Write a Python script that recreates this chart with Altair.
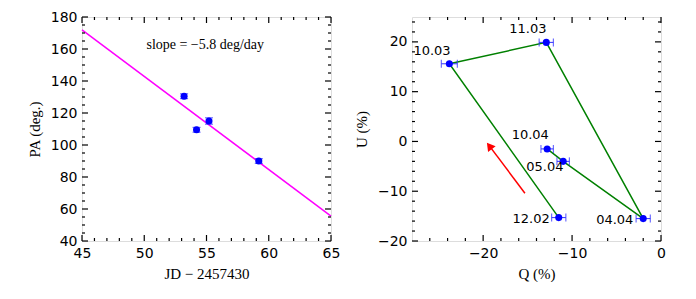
import altair as alt
import pandas as pd

# ---------------- data: left panel (PA vs JD) ----------------
jd = [53.2, 54.2, 55.2, 59.2]
pa = [130.5, 109.5, 115.0, 90.0]
pa_err = [1.5, 1.5, 2.0, 1.5]
fit_jd = [45.0, 65.0]
fit_pa = [172.0, 55.5]
slope_text = ["slope = \u22125.8 deg/day"]
slope_pos = [54.9, 162.5]

left_x_major = [45, 50, 55, 60, 65]
left_x_minor = [46, 47, 48, 49, 51, 52, 53, 54, 56, 57, 58, 59, 61, 62, 63, 64]
left_y_major = [40, 60, 80, 100, 120, 140, 160, 180]
left_y_minor = [45, 50, 55, 65, 70, 75, 85, 90, 95, 105, 110, 115, 125, 130, 135,
                145, 150, 155, 165, 170, 175]

# ---------------- data: right panel (U vs Q) ----------------
dates = ["12.02", "10.03", "11.03", "04.04", "05.04", "10.04"]
q = [-11.5, -23.8, -12.9, -2.0, -11.0, -12.8]
u = [-15.3, 15.6, 19.9, -15.5, -4.0, -1.5]
q_err = [0.8, 0.9, 0.8, 0.8, 0.7, 0.7]
u_err = [0.5, 0.6, 0.5, 0.6, 0.5, 0.5]
label_q = [-14.6, -25.75, -14.97, -5.2, -13.06, -14.7]
label_u = [-15.6, 18.2, 22.6, -15.8, -5.1, 1.3]
arrow_q = [-15.3, -19.3]
arrow_u = [-10.4, -0.9]

right_x_major = [-20, -10, 0]
right_x_minor = [-26, -24, -22, -18, -16, -14, -12, -8, -6, -4, -2]
right_y_major = [-20, -10, 0, 10, 20]
right_y_minor = [-18, -16, -14, -12, -8, -6, -4, -2, 2, 4, 6, 8, 12, 14, 16, 18, 22, 24]

W, H = 249, 224
MAJ, MIN = 6, 3

LABEL_FONT = "DejaVu Sans"
TITLE_FONT = "Liberation Serif"


def make_axis(values, title, orient):
    return alt.Axis(values=values, title=title, ticks=False, domain=False, grid=False,
                    labelFont=LABEL_FONT, labelFontSize=14, labelColor="black",
                    titleFont=TITLE_FONT, titleFontSize=15, titleFontWeight="normal",
                    titleColor="black", labelPadding=5,
                    titlePadding=8 if orient == "left" else 6, labelFlush=False,
                    labelOverlap=False)


def tick_layers(xs_major, xs_minor, ys_major, ys_minor, X, Y):
    layers = []
    for vals, ln in ((xs_major, MAJ), (xs_minor, MIN)):
        d = pd.DataFrame({"x": vals})
        base = alt.Chart(d).mark_tick(color="black", orient="vertical", size=ln,
                                      thickness=1.2, opacity=1)
        layers.append(base.encode(x=X("x:Q"), y=alt.value(H - ln / 2)))
        layers.append(base.encode(x=X("x:Q"), y=alt.value(ln / 2)))
    for vals, ln in ((ys_major, MAJ), (ys_minor, MIN)):
        d = pd.DataFrame({"y": vals})
        base = alt.Chart(d).mark_tick(color="black", orient="horizontal", size=ln,
                                      thickness=1.2, opacity=1)
        layers.append(base.encode(y=Y("y:Q"), x=alt.value(ln / 2)))
        layers.append(base.encode(y=Y("y:Q"), x=alt.value(W - ln / 2)))
    return layers


# ---------------- left panel ----------------
lx_scale = alt.Scale(domain=[45, 65], nice=False, zero=False)
ly_scale = alt.Scale(domain=[40, 180], nice=False, zero=False)
lx_axis = make_axis(left_x_major, "JD \u2212 2457430", "bottom")
ly_axis = make_axis(left_y_major, "PA (deg.)", "left")


def LX(f):
    return alt.X(f, scale=lx_scale, axis=lx_axis, title="JD \u2212 2457430")


def LY(f):
    return alt.Y(f, scale=ly_scale, axis=ly_axis, title="PA (deg.)")


ldf = pd.DataFrame({"x": jd, "y": pa,
                    "ylo": [a - e for a, e in zip(pa, pa_err)],
                    "yhi": [a + e for a, e in zip(pa, pa_err)]})
fit_df = pd.DataFrame({"x": fit_jd, "y": fit_pa})
slope_df = pd.DataFrame({"x": [slope_pos[0]], "y": [slope_pos[1]], "t": slope_text})

l_fit = alt.Chart(fit_df).mark_line(color="#ff00ff", strokeWidth=1.5).encode(x=LX("x:Q"), y=LY("y:Q"))
l_err = alt.Chart(ldf).mark_rule(color="#3030ff", strokeWidth=1).encode(
    x=LX("x:Q"), y=LY("ylo:Q"), y2="yhi:Q")
l_cap_hi = alt.Chart(ldf).mark_tick(orient="horizontal", size=8, thickness=1.2, color="#3030ff").encode(
    x=LX("x:Q"), y=LY("yhi:Q"))
l_cap_lo = alt.Chart(ldf).mark_tick(orient="horizontal", size=8, thickness=1.2, color="#3030ff").encode(
    x=LX("x:Q"), y=LY("ylo:Q"))
l_pts = alt.Chart(ldf).mark_point(filled=True, shape="circle", size=50, color="#0000ff", opacity=1).encode(
    x=LX("x:Q"), y=LY("y:Q"))
l_txt = alt.Chart(slope_df).mark_text(font=TITLE_FONT, fontSize=14, color="black").encode(
    x=LX("x:Q"), y=LY("y:Q"), text="t:N")

left = alt.layer(
    l_fit, l_err, l_cap_hi, l_cap_lo, l_pts, l_txt,
    *tick_layers(left_x_major, left_x_minor, left_y_major, left_y_minor, LX, LY)
).properties(width=W, height=H)

# ---------------- right panel ----------------
rx_scale = alt.Scale(domain=[-28, 0], nice=False, zero=False)
ry_scale = alt.Scale(domain=[-20, 25], nice=False, zero=False)
rx_axis = make_axis(right_x_major, "Q (%)", "bottom")
ry_axis = make_axis(right_y_major, "U (%)", "left")


def RX(f):
    return alt.X(f, scale=rx_scale, axis=rx_axis, title="Q (%)")


def RY(f):
    return alt.Y(f, scale=ry_scale, axis=ry_axis, title="U (%)")


rdf = pd.DataFrame({"x": q, "y": u, "order": list(range(len(q))), "date": dates,
                    "xlo": [a - e for a, e in zip(q, q_err)],
                    "xhi": [a + e for a, e in zip(q, q_err)],
                    "ylo": [a - e for a, e in zip(u, u_err)],
                    "yhi": [a + e for a, e in zip(u, u_err)]})
lab_df = pd.DataFrame({"x": label_q, "y": label_u, "t": dates})
arr_df = pd.DataFrame({"x": arrow_q, "y": arrow_u, "order": [0, 1]})
head_df = pd.DataFrame({"x": [arrow_q[1]], "y": [arrow_u[1]]})

r_line = alt.Chart(rdf).mark_line(color="#008000", strokeWidth=1.5).encode(
    x=RX("x:Q"), y=RY("y:Q"), order="order:Q")
r_xerr = alt.Chart(rdf).mark_rule(color="#3030ff", strokeWidth=1).encode(
    x=RX("xlo:Q"), x2="xhi:Q", y=RY("y:Q"))
r_yerr = alt.Chart(rdf).mark_rule(color="#3030ff", strokeWidth=1).encode(
    x=RX("x:Q"), y=RY("ylo:Q"), y2="yhi:Q")
r_cap_l = alt.Chart(rdf).mark_tick(orient="vertical", size=8, thickness=1.2, color="#3030ff").encode(
    x=RX("xlo:Q"), y=RY("y:Q"))
r_cap_r = alt.Chart(rdf).mark_tick(orient="vertical", size=8, thickness=1.2, color="#3030ff").encode(
    x=RX("xhi:Q"), y=RY("y:Q"))
r_pts = alt.Chart(rdf).mark_point(filled=True, shape="circle", size=50, color="#0000ff", opacity=1).encode(
    x=RX("x:Q"), y=RY("y:Q"))
r_lab = alt.Chart(lab_df).mark_text(font=LABEL_FONT, fontSize=13, color="black").encode(
    x=RX("x:Q"), y=RY("y:Q"), text="t:N")
r_arrow = alt.Chart(arr_df).mark_line(color="#ff0000", strokeWidth=1.5).encode(
    x=RX("x:Q"), y=RY("y:Q"), order="order:Q")
r_head = alt.Chart(head_df).mark_point(shape="triangle-up", angle=323, size=90, filled=True,
                                       color="#ff0000", opacity=1).encode(x=RX("x:Q"), y=RY("y:Q"))

right = alt.layer(
    r_line, r_xerr, r_yerr, r_cap_l, r_cap_r, r_pts, r_lab, r_arrow, r_head,
    *tick_layers(right_x_major, right_x_minor, right_y_major, right_y_minor, RX, RY)
).properties(width=W, height=H)

chart = alt.hconcat(left, right, spacing=12).properties(
    padding={"left": 18, "top": 1, "right": 0, "bottom": 0}
).configure_view(stroke="black", strokeWidth=1.5).configure(background="white")

chart.save("out.html", embed_options={"renderer": "svg", "actions": False})
